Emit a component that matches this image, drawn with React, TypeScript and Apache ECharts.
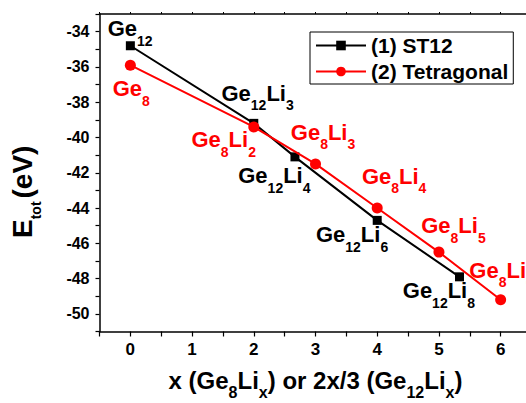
import React, { useEffect, useRef } from "react";
import * as echarts from "echarts";

// ---- data ----
const st12X = [0, 2, 2.667, 4, 5.333];
const st12Y = [-34.8, -39.2, -41.1, -44.7, -47.9];
const st12Labels = [
  ["Ge", "12"],
  ["Ge", "12", "Li", "3"],
  ["Ge", "12", "Li", "4"],
  ["Ge", "12", "Li", "6"],
  ["Ge", "12", "Li", "8"],
];
const tetX = [0, 2, 3, 4, 5, 6];
const tetY = [-35.9, -39.4, -41.5, -44.0, -46.5, -49.2];
const tetLabels = [
  ["Ge", "8"],
  ["Ge", "8", "Li", "2"],
  ["Ge", "8", "Li", "3"],
  ["Ge", "8", "Li", "4"],
  ["Ge", "8", "Li", "5"],
  ["Ge", "8", "Li", "6"],
];
const seriesNames = ["(1) ST12", "(2) Tetragonal"];
const xRange = [-0.5, 6.5];
const yRange = [-51, -33];

// ---- label placement (style, px offsets from point) ----
const st12Offsets = [
  [-22.7, -27.9],
  [-32.3, -41.3],
  [-56.7, 8],
  [-61.3, 3.4],
  [-56.7, 3],
];
const tetOffsets = [
  [-17.7, 12.7],
  [-62.3, 1.7],
  [-24.7, -42.6],
  [-15.3, -42.6],
  [-17.7, -37.6],
  [-31.3, -40.3],
];

const FONT = "'Liberation Sans', Arial, Helvetica, sans-serif";
const RED = "#ff0000";
const BLACK = "#000000";

const richOf = (parts: string[]) =>
  parts.map((p, i) => (i % 2 === 0 ? `{m|${p}}` : `{s|${p}}`)).join("");

const richStyles = (color: string) => ({
  m: { fontSize: 22, lineHeight: 22, verticalAlign: "top", fontWeight: "bold", color, fontFamily: FONT },
  s: { fontSize: 14, lineHeight: 14, padding: [16, 0, 0, 0], verticalAlign: "top", fontWeight: "bold", color, fontFamily: FONT },
});

const buildData = (xs: number[], ys: number[], labels: string[][], offs: number[][]) =>
  xs.map((x, i) => ({
    value: [x, ys[i]],
    label: { show: true, formatter: richOf(labels[i]), offset: offs[i] },
  }));

export default function App() {
  const ref = useRef<HTMLDivElement>(null);
  useEffect(() => {
    document.body.style.margin = "0";
    const chart = echarts.init(ref.current!, null, { renderer: "svg" });
    const axisLineStyle = { color: BLACK, width: 1.5 };
    chart.setOption({
      animation: false,
      backgroundColor: "#ffffff",
      grid: { left: 99.5, width: 432, top: 14, bottom: 71.5, containLabel: false, outerBoundsMode: "none" },
      legend: {
        orient: "vertical",
        left: 310,
        top: 32,
        data: seriesNames,
        itemWidth: 50,
        itemHeight: 12,
        itemGap: 5,
        padding: [3, 5, 2, 5],
        borderColor: BLACK,
        borderWidth: 1,
        borderRadius: 0,
        textStyle: { fontSize: 21, fontWeight: "bold", color: BLACK, fontFamily: FONT },
      },
      xAxis: [
        {
          type: "value",
          min: xRange[0],
          max: xRange[1],
          interval: 0.5,
          splitLine: { show: false },
          axisLine: { onZero: false, lineStyle: axisLineStyle },
          axisTick: { inside: false, length: 5, lineStyle: { color: BLACK, width: 1.2 } },
          axisLabel: {
            margin: 9,
            fontSize: 17,
            fontWeight: "bold",
            color: BLACK,
            fontFamily: FONT,
            formatter: (v: number) => (Number.isInteger(v) ? String(v) : ""),
          },
          name: "{m|x (Ge}{s|8}{m|Li}{s|x}{m|) or 2x/3 (Ge}{s|12}{m|Li}{s|x}{m|)}",
          nameLocation: "middle",
          nameGap: 37,
          nameTextStyle: {
            rich: {
              m: { fontSize: 24, lineHeight: 26, verticalAlign: "top", fontWeight: "bold", color: BLACK, fontFamily: FONT },
              s: { fontSize: 16, lineHeight: 16, padding: [16, 0, 0, 0], verticalAlign: "top", fontWeight: "bold", color: BLACK, fontFamily: FONT },
            },
          },
        },
        {
          type: "value",
          position: "top",
          min: xRange[0],
          max: xRange[1],
          interval: 0.5,
          splitLine: { show: false },
          axisLine: { onZero: false, lineStyle: axisLineStyle },
          axisTick: { inside: false, length: 2, lineStyle: { color: BLACK, width: 1 } },
          axisLabel: { show: false },
        },
      ],
      yAxis: {
        type: "value",
        min: yRange[0],
        max: yRange[1],
        interval: 1,
        splitLine: { show: false },
        axisLine: { onZero: false, lineStyle: axisLineStyle },
        axisTick: { inside: false, length: 4, lineStyle: { color: BLACK, width: 1.2 } },
        axisLabel: {
          margin: 10,
          fontSize: 16,
          fontWeight: "bold",
          color: BLACK,
          fontFamily: FONT,
          formatter: (v: number) => (v % 2 === 0 ? String(v) : ""),
        },
      },
      graphic: [
        {
          type: "text",
          x: 8.5,
          y: 238,
          rotation: Math.PI / 2,
          style: {
            text: "{m|E}{s|tot}{p|(eV)}",
            align: "left",
            verticalAlign: "top",
            rich: {
              m: { fontSize: 28, lineHeight: 30, verticalAlign: "top", fontWeight: "bold", fill: BLACK, fontFamily: FONT },
              p: { fontSize: 28, lineHeight: 30, padding: [0, 0, 0, 3], verticalAlign: "top", fontWeight: "bold", fill: BLACK, fontFamily: FONT },
              s: { fontSize: 14, lineHeight: 14, padding: [20, 0, 0, 0], verticalAlign: "top", fontWeight: "bold", fill: BLACK, fontFamily: FONT },
            },
          },
        },
      ],
      series: [
        {
          name: seriesNames[0],
          type: "line",
          xAxisIndex: 0,
          symbol: "rect",
          symbolSize: 9,
          color: BLACK,
          lineStyle: { color: BLACK, width: 2 },
          itemStyle: { color: BLACK },
          label: {
            position: "inside",
            align: "left",
            verticalAlign: "top",
            rich: richStyles(BLACK),
          },
          data: buildData(st12X, st12Y, st12Labels, st12Offsets),
          z: 3,
        },
        {
          name: seriesNames[1],
          type: "line",
          xAxisIndex: 0,
          symbol: "circle",
          symbolSize: 11,
          color: RED,
          lineStyle: { color: RED, width: 2 },
          itemStyle: { color: RED },
          label: {
            position: "inside",
            align: "left",
            verticalAlign: "top",
            rich: richStyles(RED),
          },
          data: buildData(tetX, tetY, tetLabels, tetOffsets),
          z: 4,
        },
      ],
    });
    return () => chart.dispose();
  }, []);
  return <div ref={ref} style={{ width: 526, height: 403 }} />;
}
